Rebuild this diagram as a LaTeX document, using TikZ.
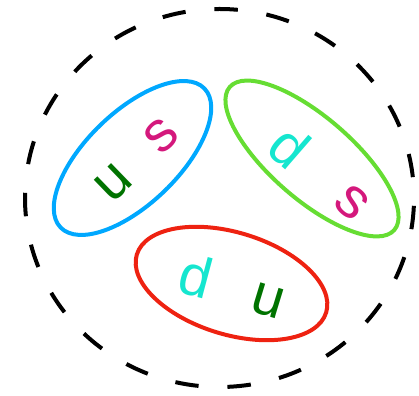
\documentclass[tikz,border=0pt]{standalone}
\usepackage{fontspec}
\setmainfont{Liberation Sans}
\definecolor{cblue}{HTML}{00A8FF}
\definecolor{cgreen}{HTML}{66DD33}
\definecolor{cred}{HTML}{EE2211}
\definecolor{qu}{HTML}{007300}
\definecolor{qs}{HTML}{D4187C}
\definecolor{qd}{HTML}{15E6CF}
\tikzset{
  ring/.style={line width=4pt},
  quark/.style={inner sep=0pt, font=\fontsize{57}{57}\selectfont},
  bag/.style={line width=4pt, dash pattern=on 23.5pt off 28.9pt, dash phase=31.5pt}
}
\begin{document}
\begin{tikzpicture}[x=1pt,y=1pt]
\useasboundingbox (0,0) rectangle (419,395);
\coordinate (o) at (219.5,197);
\draw[bag] (o) ellipse [x radius=194.5, y radius=189];
\coordinate (cb) at (132.5,237);
\coordinate (cg) at (312,236.5);
\coordinate (cr) at (231.5,111.5);
\draw[ring, cblue, rotate around={44:(cb)}] (cb) ellipse [x radius=100, y radius=46];
\draw[ring, cgreen, rotate around={-41:(cg)}] (cg) ellipse [x radius=109, y radius=41];
\draw[ring, cred, rotate around={-17:(cr)}] (cr) ellipse [x radius=99, y radius=51];
\node[quark, qu, rotate=44] (u1) at (114,212) {u};
\node[quark, qs, rotate=44] (s1) at (161,259) {s};
\node[quark, qd, rotate=-41] (d1) at (290,248) {d};
\node[quark, qs, rotate=-41] (s2) at (352,192) {s};
\node[quark, qd, rotate=-15] (d2) at (196,119) {d};
\node[quark, qu, rotate=-17] (u2) at (268,94) {u};
\end{tikzpicture}
\end{document}
